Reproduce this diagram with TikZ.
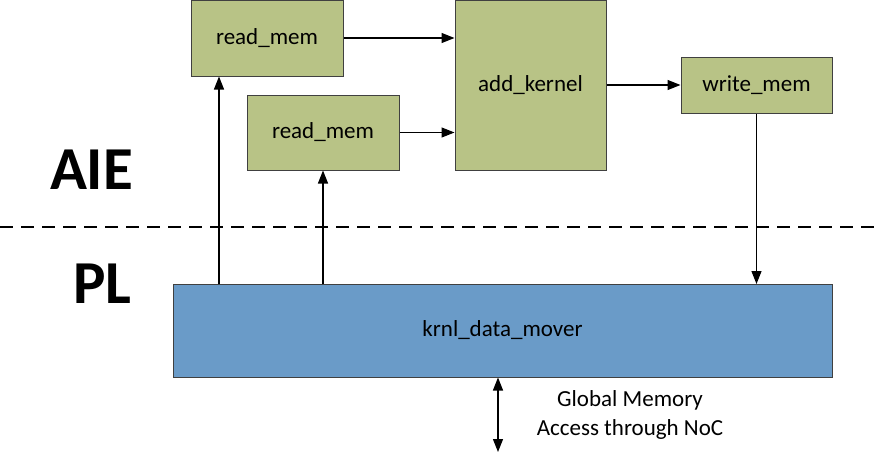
\documentclass[tikz,border=0pt]{standalone}
\usepackage{fontspec}
\setmainfont{Carlito}
\usetikzlibrary{arrows.meta}
\definecolor{aiegreen}{RGB}{184,195,134}
\definecolor{plblue}{RGB}{106,155,200}
\begin{document}
\begin{tikzpicture}[x=1pt, y=-1pt,
    blk/.style={draw=black!75, line width=1pt, fill=aiegreen, inner sep=0pt,
      font=\fontsize{23}{27}\selectfont},
    lbl/.style={font=\fontsize{61}{61}\selectfont\bfseries, inner sep=0pt},
    arr/.style={line width=1.2pt, -{Triangle[length=13pt,width=10pt]}}]
    \useasboundingbox (0,0) rectangle (875,456);
    % AIE side
    \node[blk, minimum width=152pt, minimum height=76pt] (rd1) at (267,38) {read\_mem};
    \node[blk, minimum width=152pt, minimum height=75pt] (rd2) at (323,132.5) {read\_mem};
    \node[blk, minimum width=151pt, minimum height=170pt] (add) at (530.5,85) {add\_kernel};
    \node[blk, minimum width=151pt, minimum height=56pt] (wr) at (756.5,85) {write\_mem};
    % PL side
    \node[blk, fill=plblue, minimum width=659pt, minimum height=93pt] (dm) at (502.5,330.5) {krnl\_data\_mover};
    \node[lbl] (aie) at (91.5,170) {AIE};
    \node[lbl] (pl) at (102.5,284) {PL};
    \draw[line width=1.5pt, dash pattern=on 13pt off 8pt] (0,227) -- (875,227);
    \coordinate (dm1) at (219,284);
    \coordinate (dm2) at (323,284);
    \coordinate (dm3) at (756.5,284);
    \draw[arr] (dm1) -- (rd1.south -| dm1);
    \draw[arr] (dm2) -- (rd2.south);
    \draw[arr] (wr.south) -- (dm3);
    \draw[arr] (rd1.east) -- (rd1.east -| add.west);
    \draw[arr] (rd2.east) -- (rd2.east -| add.west);
    \draw[arr] (add.east |- wr.west) -- (wr.west);
    % global memory
    \coordinate (gm) at (498,452);
    \draw[arr, {Triangle[length=13pt,width=10pt]}-{Triangle[length=13pt,width=10pt]}] (dm.south -| gm) -- (gm);
    \node[font=\fontsize{23}{29}\selectfont, align=center] (noc) at (630,415) {Global Memory\\Access through NoC};
\end{tikzpicture}
\end{document}
